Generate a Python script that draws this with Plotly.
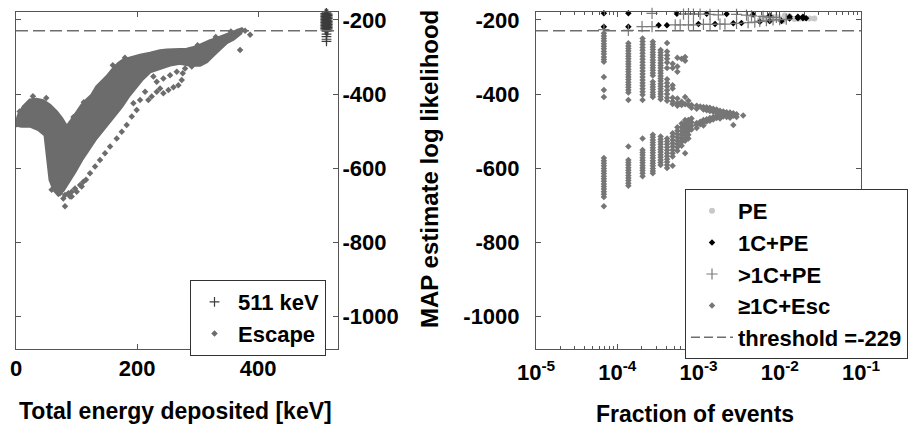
import plotly.graph_objects as go

# ------------------------------------------------------------------
# Left panel: MAP estimate log likelihood vs total deposited energy
# ------------------------------------------------------------------
# outline of the dense core of escape events (energy [keV], log likelihood)
core_energy = [0, 4, 12, 23, 34, 45, 56, 67, 75.5, 83.7, 92, 100.3, 108.5, 116.8,
               125.1, 133.3, 141.6, 149.9, 160.9, 169.1, 177.4, 185.7, 193.9, 205,
               221.5, 238, 249, 265.6, 282.1, 298.6, 309.6, 320.7, 331.7, 342.7,
               353.7, 364.7, 374.6, 371.4, 359.2, 348.2, 337.2, 326.2, 315.2, 304.1,
               287.6, 271.1, 254.5, 238, 221.5, 207.7, 196.7, 185.7, 174.7, 163.6,
               152.6, 141.6, 130.6, 119.6, 108.5, 97.5, 86.5, 78.2, 70, 62.8, 56.2,
               53.4, 50.7, 47.9, 36.9, 23.1, 9.4, 0]
core_ll = [-481, -457, -434, -416, -414, -418, -430, -448, -466, -488, -470, -448,
           -430, -416, -403, -380, -367, -353, -331, -317, -308, -304, -299, -295,
           -290, -283, -281, -281, -279, -272, -263, -256, -250, -243, -236, -229,
           -223, -236, -252, -261, -277, -295, -313, -322, -322, -317, -322, -331,
           -340, -362, -385, -407, -434, -457, -479, -502, -524, -551, -578, -610,
           -637, -660, -673, -660, -632, -596, -560, -511, -496, -487, -487, -484]

# individual escape events around the core
esc_energy = [92.0, 100.3, 108.5, 115.7, 122.3, 130.6, 138.8, 147.1, 155.4, 166.4,
              174.7, 182.9, 191.2, 199.4, 193.9, 205.0, 213.2, 218.7, 224.2, 232.5,
              238.0, 243.5, 251.8, 260.1, 268.3, 273.8, 275.5, 279.3, 290.4, 227.0,
              232.5, 243.5, 254.5, 265.6, 370.2, 386.8, 378.5, 365.8, 58.9, 64.5,
              69.9, 75.5, 72.7, 81.0, 86.5, 92.0, 97.5, 105.8, 111.3, 81.0, 78.2,
              89.3, 0.5, 6.0, 28.0, 50.0, 82.0, 95.0, 112.0, 160.0, 180.0, 300.0,
              330.0, 355.0]
esc_ll = [-677, -664, -650, -632, -614, -596, -578, -560, -542, -520, -502, -484,
          -461, -443, -425, -416, -394, -416, -407, -394, -385, -398, -389, -382,
          -376, -362, -344, -331, -326, -353, -367, -358, -349, -340, -281, -240,
          -229, -232, -659, -646, -655, -641, -668, -673, -668, -664, -655, -646,
          -637, -703, -682, -677, -482, -447, -406, -411, -495, -462, -422, -322,
          -302, -268, -246, -231]

# 511 keV full-absorption events
full_energy = [511, 511, 511, 511, 511, 511, 511, 511, 511, 511, 511, 511,
               513, 513, 513, 513, 513, 513, 513, 513, 513, 513, 513, 513, 513, 513,
               513, 513, 513,
               515, 515, 515, 515, 515, 515, 515, 515, 515, 515, 515, 515]
full_ll = [-183, -187, -191, -195, -199, -203, -207, -211, -215, -219, -223, -227,
           -181, -185, -189, -193, -197, -201, -205, -209, -213, -217, -221, -225,
           -230, -238, -245, -252, -258,
           -184, -188, -192, -196, -200, -204, -208, -212, -216, -220, -224, -229]

# ------------------------------------------------------------------
# Right panel: fraction of events per log-likelihood bin, by class
# ------------------------------------------------------------------
pe_frac = [6.23e-3, 6.85e-3, 7.52e-3, 8.27e-3, 9.08e-3, 9.97e-3, 1.095e-2, 1.2e-2,
           1.32e-2, 1.52e-2, 1.75e-2, 2.02e-2, 2.32e-2, 2.67e-2, 5.68e-3, 1.15e-2]
pe_ll = [-193, -200, -203, -197, -192, -199, -203, -195, -190, -197, -196, -195,
         -196, -196, -200, -188]

c1_frac = [6.85e-5, 1.37e-4, 5.42e-4, 1.26e-3, 2.22e-3, 4.7e-3, 7.52e-3, 1.32e-2,
           1.67e-2, 1.93e-2,
           6.85e-5, 1.37e-4, 3.23e-4, 4.09e-4, 9.98e-4, 1.6e-3, 2.68e-3, 3.38e-3,
           5.68e-3, 7.52e-3, 1.05e-2, 1.32e-2, 1.67e-2, 1.93e-2, 2.11e-2]
c1_ll = [-182, -182, -183, -183, -184, -185, -188, -191, -191, -191,
         -218, -218, -214, -214, -211, -211, -209, -208, -205, -203, -203, -196,
         -195, -195, -195]

cn_frac = [2.68e-4, 6.54e-4, 7.53e-4, 8.67e-4, 1.046e-3, 1.387e-3, 1.754e-3, 2.94e-3,
           3.9e-3, 4.49e-3, 6.23e-3, 7.52e-3, 9.08e-3,
           2.02e-4, 2.68e-4, 5.17e-4, 5.95e-4, 7.53e-4, 8.67e-4, 1.15e-3, 1.387e-3,
           1.838e-3, 2.117e-3, 2.94e-3, 4.08e-3, 4.93e-3, 5.68e-3, 6.85e-3, 8.27e-3,
           9.97e-3, 1.203e-2, 6.85e-5, 1.37e-4]
cn_ll = [-182, -184, -183, -184, -184, -185, -186, -185, -187, -189, -190, -192, -193,
         -218, -218, -213, -213, -213, -213, -212, -212, -211, -211, -209, -207, -206,
         -204, -202, -200, -199, -198, -226, -228]

# escape-class histogram: one fraction per column, with the bins it occupies
escr_frac = [6.85e-5, 1.37e-4, 2.05e-4, 2.74e-4, 3.42e-4, 4.1e-4, 4.8e-4, 5.5e-4,
             6.2e-4, 6.85e-4, 7.5e-4, 8.2e-4, 9.5e-4, 1.05e-3, 1.15e-3, 1.26e-3,
             1.38e-3, 1.52e-3, 1.67e-3, 1.84e-3, 2.02e-3, 2.22e-3, 2.44e-3, 2.68e-3,
             2.94e-3, 3.55e-3]
escr_ll = [
    [-236, -243, -250, -257, -264, -271, -278, -285, -292, -300, -307, -313, -354,
     -389, -408, -573, -580, -587, -594, -601, -608, -615, -622, -629, -636, -643,
     -650, -657, -664, -671, -678, -703],
    [-263, -270, -277, -284, -291, -298, -305, -312, -319, -326, -333, -340, -347,
     -354, -361, -368, -375, -382, -389, -396, -416, -542, -578, -585, -592, -599,
     -606, -613, -620, -627, -634, -641, -648],
    [-250, -258, -266, -274, -282, -290, -298, -306, -314, -322, -330, -338, -346,
     -354, -362, -370, -378, -386, -394, -402, -416, -520, -551, -558, -565, -572,
     -579, -586, -593, -600, -607, -614, -622],
    [-259, -266, -273, -280, -287, -294, -301, -308, -315, -322, -329, -336, -343,
     -350, -367, -374, -381, -388, -395, -402, -408, -510, -517, -524, -531, -538,
     -545, -552, -559, -566, -573, -580, -587, -594, -601, -608, -614],
    [-281, -288, -295, -302, -309, -316, -323, -330, -337, -344, -351, -358, -365,
     -372, -379, -386, -393, -400, -407, -414, -515, -522, -529, -536, -543, -550,
     -557, -564, -571, -578, -585, -592],
    [-262, -285, -295, -305, -315, -330, -360, -370, -380, -390, -400, -410, -418,
     -520, -528, -536, -544, -552, -560, -568, -576, -584, -592, -600],
    [-318, -330, -376, -385, -410, -420, -427, -506, -515, -524, -533, -542, -551,
     -560, -569, -594],
    [-302, -326, -340, -412, -425, -432, -490, -499, -508, -517, -526, -535, -544, -553],
    [-305, -421, -430, -480, -490, -500, -510, -520, -530, -540],
    [-300, -310, -408, -428, -470, -478, -486, -494, -502, -510, -518, -526, -560],
    [-418, -430, -470, -480, -490, -500, -510, -520],
    [-430, -437, -466, -476, -486, -496],
    [-432, -440, -478, -484, -492],
    [-434, -475, -482],
    [-435, -442, -470, -477, -485],
    [-436, -444, -468, -474],
    [-437, -446, -465, -472],
    [-440, -448, -462, -469],
    [-442, -450, -458, -465],
    [-445, -452, -460, -466],
    [-447, -454, -461],
    [-449, -455, -462],
    [-450, -457, -464],
    [-452, -459, -484],
    [-455, -462],
    [-458],
]

THRESHOLD = -229

ll_ticks = [-200, -400, -600, -800, -1000]
energy_ticks = [0, 200, 400]
frac_ticks = [1e-5, 1e-4, 1e-3, 1e-2, 1e-1]
frac_ticktext = ["10<sup>-5</sup>", "10<sup>-4</sup>", "10<sup>-3</sup>",
                 "10<sup>-2</sup>", "10<sup>-1</sup>"]

# ------------------------------------------------------------------
W, H = 920, 433
FONT = "Liberation Sans, Arial, Helvetica, sans-serif"
AX = "#555555"
ESC_GREY = "#6c6c6c"
tick_font = dict(family=FONT, size=22, color="black", weight="bold")
leg_font = dict(family=FONT, size=22, color="black", weight="bold")

esc_x = [f for f, ys in zip(escr_frac, escr_ll) for _ in ys]
esc_y = [y for ys in escr_ll for y in ys]

fig = go.Figure()

# left panel
fig.add_trace(go.Scatter(
    x=core_energy, y=core_ll, mode="lines", fill="toself", fillcolor=ESC_GREY,
    line=dict(color=ESC_GREY, width=3), showlegend=False, hoverinfo="skip",
    xaxis="x", yaxis="y"))
fig.add_trace(go.Scatter(
    x=esc_energy, y=esc_ll, mode="markers", name="Escape", legendrank=2,
    marker=dict(symbol="diamond", size=5, color=ESC_GREY),
    xaxis="x", yaxis="y", legend="legend"))
fig.add_trace(go.Scatter(
    x=full_energy, y=full_ll, mode="markers", name="511 keV", legendrank=1,
    marker=dict(symbol="cross-thin", size=7, line=dict(color="#3c3c3c", width=1.2)),
    cliponaxis=False, xaxis="x", yaxis="y", legend="legend"))

# right panel
fig.add_trace(go.Scatter(
    x=pe_frac, y=pe_ll, mode="markers", name="PE",
    marker=dict(symbol="circle", size=6, color="#c8c8c8"),
    xaxis="x2", yaxis="y2", legend="legend2"))
fig.add_trace(go.Scatter(
    x=c1_frac, y=c1_ll, mode="markers", name="1C+PE",
    marker=dict(symbol="diamond", size=5, color="black"),
    cliponaxis=False, xaxis="x2", yaxis="y2", legend="legend2"))
fig.add_trace(go.Scatter(
    x=cn_frac, y=cn_ll, mode="markers", name=">1C+PE",
    marker=dict(symbol="cross-thin", size=8, line=dict(color="#7a7a7a", width=1.2)),
    cliponaxis=False, xaxis="x2", yaxis="y2", legend="legend2"))
fig.add_trace(go.Scatter(
    x=esc_x, y=esc_y, mode="markers", name="\u22651C+Esc",
    marker=dict(symbol="diamond", size=5, color="#767676"),
    xaxis="x2", yaxis="y2", legend="legend2"))
fig.add_trace(go.Scatter(
    x=[None], y=[None], mode="lines", name="threshold =%d" % THRESHOLD,
    line=dict(color="#6e6e6e", width=1.5, dash="9px,4px"),
    xaxis="x2", yaxis="y2", legend="legend2"))

# threshold lines across each panel
for xr, yr in (("x domain", "y"), ("x2 domain", "y2")):
    fig.add_shape(type="line", xref=xr, yref=yr, x0=0, x1=1,
                  y0=THRESHOLD, y1=THRESHOLD,
                  line=dict(color="#6e6e6e", width=1.5, dash="12px,5px"))

ydom = [1 - 349 / H, 1 - 12 / H]
common = dict(showline=True, linecolor=AX, linewidth=1, ticks="inside", ticklen=5,
              tickcolor=AX, mirror="allticks", showgrid=False, zeroline=False,
              automargin=False, tickfont=tick_font)

title_font = dict(family=FONT, size=23, color="black", weight="bold")

fig.update_layout(
    width=W, height=H, margin=dict(l=0, r=0, t=0, b=0, autoexpand=False),
    paper_bgcolor="white", plot_bgcolor="white",
    xaxis=dict(domain=[16 / W, 338 / W], range=[0, 532], tickvals=energy_ticks,
               anchor="y", **common),
    yaxis=dict(domain=ydom, range=[-1089, -178.4], tickvals=ll_ticks,
               ticktext=[str(v) for v in ll_ticks], side="right", anchor="x",
               ticklabelstandoff=-1, **common),
    xaxis2=dict(domain=[536 / W, 861 / W], type="log", range=[-5, -1],
                tickvals=frac_ticks, ticktext=frac_ticktext, anchor="y2",
                ticklabelstandoff=4,
                minor=dict(ticks="inside", ticklen=3, tickcolor=AX,
                           tickvals=[m * 10.0 ** e for e in range(-5, -1)
                                     for m in range(2, 10)]),
                **common),
    yaxis2=dict(domain=ydom, range=[-1089, -178.4], tickvals=ll_ticks,
                ticktext=[str(v) for v in ll_ticks], side="left", anchor="x2",
                ticklabelstandoff=11, **common),
    legend=dict(x=190 / W, y=1 - 280 / H, xanchor="left", yanchor="top",
                bgcolor="white", bordercolor="#333333", borderwidth=1,
                font=leg_font, tracegroupgap=0, itemsizing="trace",
                itemwidth=37),
    legend2=dict(x=685 / W, y=1 - 189 / H, xanchor="left", yanchor="top",
                 bgcolor="white", bordercolor="#333333", borderwidth=1,
                 font=leg_font, tracegroupgap=0, itemsizing="trace",
                 itemwidth=42),
    showlegend=True,
    annotations=[
        dict(text="Total energy deposited [keV]", x=175 / W, y=1 - 411 / H,
             xref="paper", yref="paper", xanchor="center", yanchor="middle",
             showarrow=False, font=title_font),
        dict(text="Fraction of events", x=695 / W, y=1 - 414 / H,
             xref="paper", yref="paper", xanchor="center", yanchor="middle",
             showarrow=False, font=title_font),
        dict(text="MAP estimate log likelihood", x=430 / W, y=1 - 169 / H,
             xref="paper", yref="paper", xanchor="center", yanchor="middle",
             showarrow=False, textangle=-90,
             font=dict(family=FONT, size=24, color="black", weight="bold")),
    ],
)

fig.write_html("out.html")
